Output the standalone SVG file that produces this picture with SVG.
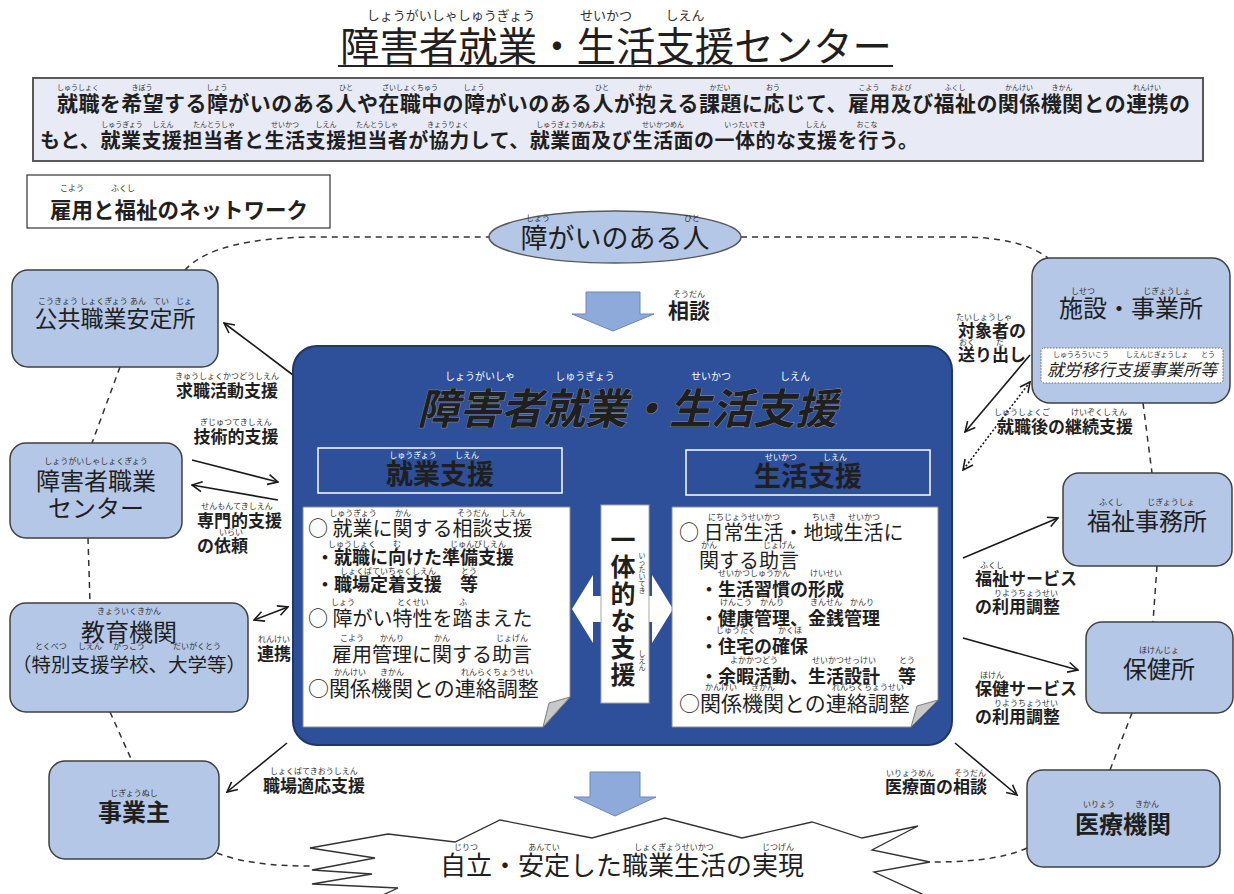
<svg xmlns="http://www.w3.org/2000/svg" width="1234" height="894" viewBox="0 0 1234 894">
<defs>
<style>
text{font-family:"Noto Sans CJK JP","Noto Sans",sans-serif;fill:#1f1f1f}
.rb{font-size:8px;text-anchor:middle;fill:#333}
.rbs{font-size:7px;text-anchor:middle;fill:#333}
.rbw{font-size:10px;text-anchor:middle;fill:#fff}
.node{fill:#b4c7e7;stroke:#404040;stroke-width:1.5}
.nl{font-size:24px;text-anchor:middle}
.dash{fill:none;stroke:#333;stroke-width:1.5;stroke-dasharray:6 5}
.arr{fill:none;stroke:#1a1a1a;stroke-width:1.6}
.lbl{font-size:17px;font-weight:bold}
.wb{fill:#fff;stroke:#8c8c8c;stroke-width:1}
.curl{fill:#c8c8c8;stroke:#7f7f7f;stroke-width:1}
.dn{fill:#8eaadb;stroke:#6d86b5;stroke-width:1}
.bx{font-size:20px}
.sub{font-size:18px;font-weight:bold}
</style>
<marker id="ah" viewBox="0 0 12 12" refX="11" refY="6" markerWidth="12" markerHeight="12" markerUnits="userSpaceOnUse" orient="auto-start-reverse"><path d="M1,1 L11,6 L1,11" fill="none" stroke="#1a1a1a" stroke-width="1.6"/></marker>
</defs>
<rect width="1234" height="894" fill="#fff"/>

<g id="title">
<text class="rb" style="font-size:13px" x="451" y="20">しょうがいしゃしゅうぎょう</text>
<text class="rb" style="font-size:13px" x="606" y="20">せいかつ</text>
<text class="rb" style="font-size:13px" x="685" y="20">しえん</text>
<text x="340" y="61" font-size="40" textLength="552" lengthAdjust="spacingAndGlyphs">障害者就業・生活支援センター</text>
<line x1="338" y1="66" x2="893" y2="66" stroke="#222" stroke-width="2"/>
</g>

<g id="description">
<rect x="33" y="78" width="1170" height="83" fill="#e8ebf5" stroke="#595959" stroke-width="2"/>
<text class="rbs" x="78" y="90">しゅうしょく</text>
<text class="rbs" x="142" y="90">きぼう</text>
<text class="rbs" x="217" y="90">しょう</text>
<text class="rbs" x="346" y="90">ひと</text>
<text class="rbs" x="410" y="90">ざいしょくちゅう</text>
<text class="rbs" x="474" y="90">しょう</text>
<text class="rbs" x="602" y="90">ひと</text>
<text class="rbs" x="645" y="90">かか</text>
<text class="rbs" x="720" y="90">かだい</text>
<text class="rbs" x="773" y="90">おう</text>
<text class="rbs" x="869" y="90">こよう</text>
<text class="rbs" x="901" y="90">および</text>
<text class="rbs" x="955" y="90">ふくし</text>
<text class="rbs" x="1019" y="90">かんけい</text>
<text class="rbs" x="1062" y="90">きかん</text>
<text class="rbs" x="1147" y="90">れんけい</text>
<text x="57" y="111" font-size="21" font-weight="bold" textLength="1133" lengthAdjust="spacing" fill="#2b2b2b">就職を希望する障がいのある人や在職中の障がいのある人が抱える課題に応じて、雇用及び福祉の関係機関との連携の</text>
<text class="rbs" x="122" y="127">しゅうぎょう</text>
<text class="rbs" x="163" y="127">しえん</text>
<text class="rbs" x="214" y="127">たんとうしゃ</text>
<text class="rbs" x="285" y="127">せいかつ</text>
<text class="rbs" x="326" y="127">しえん</text>
<text class="rbs" x="377" y="127">たんとうしゃ</text>
<text class="rbs" x="448" y="127">きょうりょく</text>
<text class="rbs" x="571" y="127">しゅうぎょうめんおよ</text>
<text class="rbs" x="663" y="127">せいかつめん</text>
<text class="rbs" x="745" y="127">いったいてき</text>
<text class="rbs" x="816" y="127">しえん</text>
<text class="rbs" x="867" y="127">おこな</text>
<text x="40" y="148" font-size="20" font-weight="bold" textLength="878" lengthAdjust="spacing" fill="#2b2b2b">もと、就業支援担当者と生活支援担当者が協力して、就業面及び生活面の一体的な支援を行う。</text>
</g>

<g id="network-label">
<rect x="27" y="175" width="303" height="53" fill="#fff" stroke="#333" stroke-width="1.2"/>
<text class="rb" x="72" y="191">こよう</text>
<text class="rb" x="123" y="191">ふくし</text>
<text x="50" y="218" font-size="21.5" font-weight="bold">雇用と福祉のネットワーク</text>
</g>

<g id="connectors">
<path class="dash" d="M185,270 C205,248 250,237 320,237 L489,237"/>
<path class="dash" d="M741,237 L960,237 C1000,237 1030,244 1048,258"/>
<path class="dash" d="M120,367 L92,443"/>
<path class="dash" d="M88,538 L90,603"/>
<path class="dash" d="M110,712 L132,761"/>
<path class="dash" d="M217,853 C240,862 270,866 310,866"/>
<path class="dash" d="M1027,848 C1000,860 965,862 930,862"/>
<path class="dash" d="M1143,403 L1152,473"/>
<path class="dash" d="M1157,566 L1153,622"/>
<path class="dash" d="M1132,713 L1110,770"/>
<line class="arr" x1="293" y1="375" x2="224" y2="323" marker-end="url(#ah)"/>
<line class="arr" x1="192" y1="460" x2="278" y2="482" marker-end="url(#ah)"/>
<line class="arr" x1="278" y1="500" x2="192" y2="485" marker-end="url(#ah)"/>
<line class="arr" x1="288" y1="607" x2="254" y2="620" marker-start="url(#ah)" marker-end="url(#ah)"/>
<line class="arr" x1="287" y1="743" x2="227" y2="792" marker-end="url(#ah)"/>
<line class="arr" x1="1030" y1="355" x2="965" y2="432" marker-end="url(#ah)"/>
<line class="arr" x1="1030" y1="382" x2="963" y2="470" stroke-dasharray="2 2" marker-start="url(#ah)" marker-end="url(#ah)"/>
<line class="arr" x1="963" y1="558" x2="1058" y2="518" marker-end="url(#ah)"/>
<line class="arr" x1="963" y1="638" x2="1078" y2="670" marker-end="url(#ah)"/>
<line class="arr" x1="955" y1="743" x2="1017" y2="795" marker-end="url(#ah)"/>
</g>

<g id="connector-labels">
<text class="rb" x="227" y="379">きゅうしょくかつどうしえん</text>
<text class="lbl" x="227" y="397" text-anchor="middle">求職活動支援</text>
<text class="rb" x="236" y="425">ぎじゅつてきしえん</text>
<text class="lbl" x="236" y="443" text-anchor="middle">技術的支援</text>
<text class="rb" x="237" y="509">せんもんてきしえん</text>
<text class="lbl" x="197" y="527">専門的支援</text>
<text class="rb" x="231" y="535">いらい</text>
<text class="lbl" x="197" y="552">の依頼</text>
<text class="rb" x="274" y="642">れんけい</text>
<text class="lbl" x="257" y="660">連携</text>
<text class="rb" x="314" y="774">しょくばてきおうしえん</text>
<text class="lbl" x="314" y="792" text-anchor="middle">職場適応支援</text>
<text class="rb" x="984" y="320">たいしょうしゃ</text>
<text class="lbl" x="958" y="337">対象者の</text>
<text class="rb" x="967" y="345">おく</text>
<text class="rb" x="1000" y="345">だ</text>
<text class="lbl" x="958" y="361">送り出し</text>
<text class="rb" x="1022" y="415">しゅうしょくご</text>
<text class="rb" x="1099" y="415">けいぞくしえん</text>
<text class="lbl" x="997" y="433">就職後の継続支援</text>
<text class="rb" x="992" y="568">ふくし</text>
<text class="lbl" x="975" y="585">福祉サービス</text>
<text class="rb" x="1026" y="596">りようちょうせい</text>
<text class="lbl" x="975" y="613">の利用調整</text>
<text class="rb" x="992" y="678">ほけん</text>
<text class="lbl" x="975" y="695">保健サービス</text>
<text class="rb" x="1026" y="706">りようちょうせい</text>
<text class="lbl" x="975" y="723">の利用調整</text>
<text class="rb" x="910" y="776">いりょうめん</text>
<text class="rb" x="970" y="776">そうだん</text>
<text class="lbl" x="885" y="793">医療面の相談</text>
<text class="rb" x="689" y="297">そうだん</text>
<text x="668" y="318" font-size="21" font-weight="bold">相談</text>
</g>

<g id="person">
<ellipse cx="615" cy="237" rx="126" ry="26" fill="#b4c7e7" stroke="#595959" stroke-width="1.5"/>
<text class="rb" x="538" y="221">しょう</text>
<text class="rb" x="692" y="221">ひと</text>
<text x="615" y="248" font-size="27" text-anchor="middle">障がいのある人</text>
</g>

<g id="arrow-top">
<polygon class="dn" points="586,292 640,292 640,314 654,314 613,331 572,314 586,314"/>
</g>

<g id="center">
<rect x="293" y="346" width="659" height="399" rx="24" fill="#2e4f9a" stroke="#1f3766" stroke-width="2"/>
<text class="rbw" x="480" y="380">しょうがいしゃ</text>
<text class="rbw" x="585" y="380">しゅうぎょう</text>
<text class="rbw" x="711" y="380">せいかつ</text>
<text class="rbw" x="795" y="380">しえん</text>
<text x="627" y="424" font-size="42" font-weight="bold" font-style="italic" text-anchor="middle" fill="#fff" stroke="#9a9a9a" stroke-width="0.8" paint-order="stroke">障害者就業・生活支援</text>

<rect x="318" y="448" width="244" height="45" fill="none" stroke="#fff" stroke-width="1.5"/>
<text class="rbw" style="font-size:8px" x="413" y="458">しゅうぎょう</text>
<text class="rbw" style="font-size:8px" x="467" y="458">しえん</text>
<text x="440" y="484" font-size="27" font-weight="bold" text-anchor="middle" fill="#fff">就業支援</text>

<rect x="686" y="450" width="244" height="45" fill="none" stroke="#fff" stroke-width="1.5"/>
<text class="rbw" style="font-size:8px" x="781" y="460">せいかつ</text>
<text class="rbw" style="font-size:8px" x="835" y="460">しえん</text>
<text x="808" y="486" font-size="27" font-weight="bold" text-anchor="middle" fill="#fff">生活支援</text>

<polygon class="wb" points="303,507 570,507 570,697 543,727 303,727"/>
<path class="curl" d="M543,727 L570,697 L549,703 Z"/>
<text class="rb" x="353" y="516">しゅうぎょう</text>
<text class="rb" x="403" y="516">かん</text>
<text class="rb" x="473" y="516">そうだん</text>
<text class="rb" x="513" y="516">しえん</text>
<text class="bx" x="308" y="536">○ 就業に関する相談支援</text>
<text class="rb" x="352" y="547">しゅうしょく</text>
<text class="rb" x="397" y="547">む</text>
<text class="rb" x="478" y="547">じゅんびしえん</text>
<text class="sub" x="316" y="564">・就職に向けた準備支援</text>
<text class="rb" x="388" y="574">しょくばていちゃくしえん</text>
<text class="rb" x="469" y="574">とう</text>
<text class="sub" x="316" y="591">・職場定着支援　等</text>
<text class="rb" x="343" y="605">しょう</text>
<text class="rb" x="413" y="605">とくせい</text>
<text class="rb" x="463" y="605">ふ</text>
<text class="bx" x="308" y="626">○ 障がい特性を踏まえた</text>
<text class="rb" x="352" y="641">こよう</text>
<text class="rb" x="392" y="641">かんり</text>
<text class="rb" x="442" y="641">かん</text>
<text class="rb" x="512" y="641">じょげん</text>
<text class="bx" x="332" y="662">雇用管理に関する助言</text>
<text class="rb" x="350" y="675">かんけい</text>
<text class="rb" x="392" y="675">きかん</text>
<text class="rb" x="497" y="675">れんらくちょうせい</text>
<text class="bx" style="font-size:21px" x="308" y="696">○関係機関との連絡調整</text>

<polygon fill="#fff" points="572,609 593,575 593,596 652,596 652,575 673,609 652,643 652,622 593,622 593,643"/>
<rect x="601" y="505" width="48" height="198" fill="#fff" stroke="#a6a6a6" stroke-width="1"/>
<text x="623" font-size="25" font-weight="bold" text-anchor="middle"><tspan x="623" y="549">一</tspan><tspan x="623" y="576">体</tspan><tspan x="623" y="603">的</tspan><tspan x="623" y="630">な</tspan><tspan x="623" y="657">支</tspan><tspan x="623" y="684">援</tspan></text>
<text class="rbs"><tspan x="642" y="558">い</tspan><tspan x="642" y="565">っ</tspan><tspan x="642" y="572">た</tspan><tspan x="642" y="579">い</tspan><tspan x="642" y="586">て</tspan><tspan x="642" y="593">き</tspan></text>
<text class="rbs"><tspan x="642" y="656">し</tspan><tspan x="642" y="663">え</tspan><tspan x="642" y="670">ん</tspan></text>

<polygon class="wb" points="672,507 938,507 938,700 911,727 672,727"/>
<path class="curl" d="M911,727 L938,700 L917,706 Z"/>
<text class="rb" x="744" y="520">にちじょうせいかつ</text>
<text class="rb" x="824" y="520">ちいき</text>
<text class="rb" x="864" y="520">せいかつ</text>
<text class="bx" x="679" y="540">○ 日常生活・地域生活に</text>
<text class="rb" x="709" y="548">かん</text>
<text class="rb" x="779" y="548">じょげん</text>
<text class="bx" x="699" y="568">関する助言</text>
<text class="rb" x="754" y="576">せいかつしゅうかん</text>
<text class="rb" x="826" y="576">けいせい</text>
<text class="sub" x="700" y="596">・生活習慣の形成</text>
<text class="rb" x="736" y="605">けんこう</text>
<text class="rb" x="772" y="605">かんり</text>
<text class="rb" x="826" y="605">きんせん</text>
<text class="rb" x="862" y="605">かんり</text>
<text class="sub" x="700" y="625">・健康管理、金銭管理</text>
<text class="rb" x="736" y="633">じゅうたく</text>
<text class="rb" x="790" y="633">かくほ</text>
<text class="sub" x="700" y="653">・住宅の確保</text>
<text class="rb" x="754" y="663">よかかつどう</text>
<text class="rb" x="844" y="663">せいかつせっけい</text>
<text class="rb" x="907" y="663">とう</text>
<text class="sub" x="700" y="683">・余暇活動、生活設計　等</text>
<text class="rb" x="721" y="690">かんけい</text>
<text class="rb" x="763" y="690">きかん</text>
<text class="rb" x="868" y="690">れんらくちょうせい</text>
<text class="bx" style="font-size:21px" x="679" y="711">○関係機関との連絡調整</text>
</g>

<g id="arrow-bottom">
<polygon class="dn" points="590,772 640,772 640,797 656,797 615,816 574,797 590,797"/>
</g>

<g id="goal">
<polygon fill="#fff" stroke="#333" stroke-width="1.3" points="388,834 455,842 500,820 592,838 665,818 742,838 812,822 862,838 918,826 872,850 930,862 874,872 922,894 922,900 372,900 398,888 312,884 372,874 312,870 375,858 310,848"/>
<text class="rb" x="466" y="850">じりつ</text>
<text class="rb" x="544" y="850">あんてい</text>
<text class="rb" x="674" y="850">しょくぎょうせいかつ</text>
<text class="rb" x="778" y="850">じつげん</text>
<text x="622" y="875" font-size="26" text-anchor="middle">自立・安定した職業生活の実現</text>
</g>

<g id="node-hellowork">
<rect class="node" x="12" y="270" width="206" height="97" rx="16"/>
<text class="rb" x="58" y="304">こうきょう</text>
<text class="rb" x="104" y="304">しょくぎょう</text>
<text class="rb" x="138" y="304">あん</text>
<text class="rb" x="161" y="304">てい</text>
<text class="rb" x="184" y="304">じょ</text>
<text class="nl" style="font-size:23px" x="115" y="327">公共職業安定所</text>
</g>

<g id="node-vocational-center">
<rect class="node" x="10" y="443" width="172" height="95" rx="16"/>
<text class="rb" x="96" y="464">しょうがいしゃしょくぎょう</text>
<text class="nl" x="96" y="490">障害者職業</text>
<text class="nl" x="96" y="517">センター</text>
</g>

<g id="node-education">
<rect class="node" x="10" y="603" width="238" height="109" rx="16"/>
<text class="rb" x="129" y="614">きょういくきかん</text>
<text class="nl" x="129" y="641">教育機関</text>
<text class="rb" x="51" y="649">とくべつ</text>
<text class="rb" x="90" y="649">しえん</text>
<text class="rb" x="129" y="649">がっこう</text>
<text class="rb" x="197" y="649">だいがくとう</text>
<text class="nl" style="font-size:19.5px" x="129" y="672">（特別支援学校、大学等）</text>
</g>

<g id="node-employer">
<rect class="node" x="49" y="761" width="170" height="98" rx="16"/>
<text class="rb" x="134" y="796">じぎょうぬし</text>
<text class="nl" x="134" y="821" font-weight="bold">事業主</text>
</g>

<g id="node-facility">
<rect class="node" x="1032" y="258" width="198" height="145" rx="18"/>
<text class="rb" x="1083" y="294">しせつ</text>
<text class="rb" x="1167" y="294">じぎょうしょ</text>
<text class="nl" x="1131" y="317">施設・事業所</text>
<rect x="1041" y="348" width="182" height="35" rx="3" fill="#fff" stroke="#666" stroke-width="1" stroke-dasharray="1.5 1.5"/>
<text class="rbs" x="1081" y="357">しゅうろういこう</text>
<text class="rbs" x="1157" y="357">しえんじぎょうしょ</text>
<text class="rbs" x="1208" y="357">とう</text>
<text x="1132" y="376" font-size="17" font-style="italic" text-anchor="middle">就労移行支援事業所等</text>
</g>

<g id="node-welfare-office">
<rect class="node" x="1063" y="473" width="169" height="93" rx="16"/>
<text class="rb" x="1111" y="505">ふくし</text>
<text class="rb" x="1171" y="505">じぎょうしょ</text>
<text class="nl" x="1147" y="530">福祉事務所</text>
</g>

<g id="node-health-center">
<rect class="node" x="1086" y="622" width="147" height="91" rx="16"/>
<text class="rb" x="1159" y="653">ほけんじょ</text>
<text class="nl" x="1159" y="678">保健所</text>
</g>

<g id="node-medical">
<rect class="node" x="1027" y="770" width="193" height="97" rx="16"/>
<text class="rb" x="1099" y="807">いりょう</text>
<text class="rb" x="1147" y="807">きかん</text>
<text class="nl" x="1123" y="833" font-weight="bold">医療機関</text>
</g>
</svg>
